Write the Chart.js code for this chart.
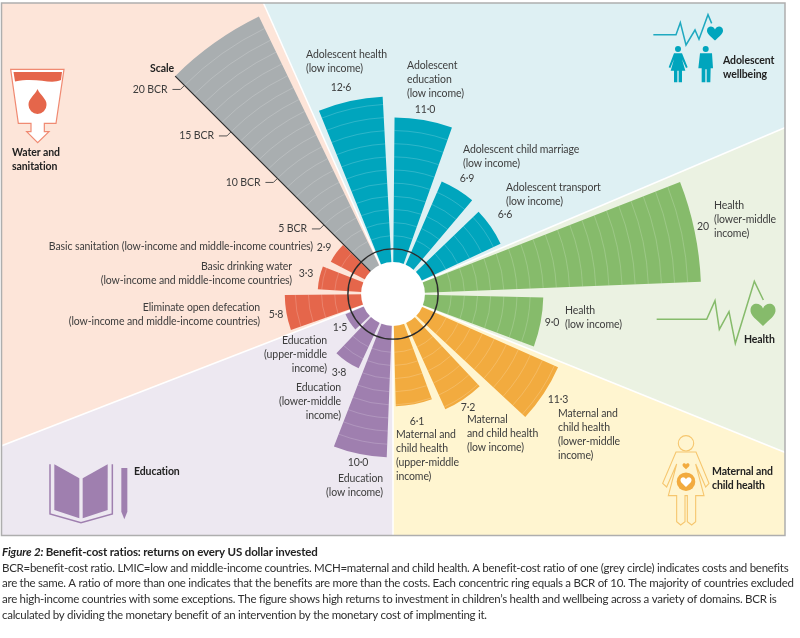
<!DOCTYPE html>
<html>
<head>
<meta charset="utf-8">
<title>Benefit-cost ratios</title>
<script src="https://cdn.jsdelivr.net/npm/chart.js@4"></script>
<style>
  html, body { margin: 0; padding: 0; background: #fff; overflow: hidden; }
  /* the radial scale centres itself in the chart area, so the canvas runs 30px above the page */
  canvas { display: block; margin-top: -30px; }
</style>
</head>
<body>
<canvas id="chart" width="800" height="668"></canvas>
<script>
const categories = [
  'Scale',
  'Adolescent health (low income)',
  'Adolescent education (low income)',
  'Adolescent child marriage (low income)',
  'Adolescent transport (low income)',
  'Health (lower-middle income)',
  'Health (low income)',
  'Maternal and child health (lower-middle income)',
  'Maternal and child health (low income)',
  'Maternal and child health (upper-middle income)',
  'Education (low income)',
  'Education (lower-middle income)',
  'Education (upper-middle income)',
  'Eliminate open defecation (low-income and middle-income countries)',
  'Basic drinking water (low-income and middle-income countries)',
  'Basic sanitation (low-income and middle-income countries)'
];
// bar lengths read against the scale; the grey bar and Health (lower-middle) both run to about 21,
// past the 20 BCR tick, though Health is printed as 20
const values = [21, 12.6, 11.0, 6.9, 6.6, 21, 9.0, 11.3, 7.2, 6.1, 10.0, 3.8, 1.5, 5.8, 3.3, 2.9];
const valueLabels = ['', '12\u00b76', '11\u00b70', '6\u00b79', '6\u00b76', '20', '9\u00b70', '11\u00b73', '7\u00b72', '6\u00b71', '10\u00b70', '3\u00b78', '1\u00b75', '5\u00b78', '3\u00b73', '2\u00b79'];
const scaleTicks = [5, 10, 15, 20];

// bearing of each bar, degrees clockwise from up
const barStart = [-45, -22, 0.5, 23.4, 46.1, 68.7, 91.3, 113.9, 136.8, 159.7, 182.2, 204.8, 226.7, 250.6, 273.7, 297.4];
const barEnd = [-25.8, -3, 19.5, 40.2, 64.9, 87.7, 110.4, 132.9, 155.6, 178.6, 201.2, 223.7, 246.9, 269.5, 291.5, 314.5];

const RED = '#e5664b', GREY = '#a9aeb0', TEAL = '#00a5bd', GREEN = '#86bb6b', ORANGE = '#f2ab3f', PURPLE = '#9f7faf';
const barColors = [GREY, TEAL, TEAL, TEAL, TEAL, GREEN, GREEN, ORANGE, ORANGE, ORANGE, PURPLE, PURPLE, PURPLE, RED, RED, RED];

// background panels: from, to (bearing), colour
const panelFrom = [-24, 67, 112, 180, 248.8];
const panelTo = [67, 112, 180, 248.8, 336];
const panelColors = ['#def0f3', '#ebf2e2', '#fff5d0', '#ede8f1', '#fde5d9'];

// text placed by hand: [lines, x, first line y, align]
const barText = [
  null,
  [['Adolescent health', '(low income)'], 306, 55, 'left'],
  [['Adolescent', 'education', '(low income)'], 407, 66, 'left'],
  [['Adolescent child marriage', '(low income)'], 463, 150, 'left'],
  [['Adolescent transport', '(low income)'], 506, 188, 'left'],
  [['Health', '(lower-middle', 'income)'], 714, 206, 'left'],
  [['Health', '(low income)'], 565, 311, 'left'],
  [['Maternal and', 'child health', '(lower-middle', 'income)'], 558, 414, 'left'],
  [['Maternal', 'and child health', '(low income)'], 467, 420, 'left'],
  [['Maternal and', 'child health', '(upper-middle', 'income)'], 396, 435, 'left'],
  [['Education', '(low income)'], 383, 479, 'right'],
  [['Education', '(lower-middle', 'income)'], 341, 388, 'right'],
  [['Education', '(upper-middle', 'income)'], 327, 341, 'right'],
  [['Eliminate open defecation', '(low-income and middle-income countries)'], 260, 308, 'right'],
  [['Basic drinking water', '(low-income and middle-income countries)'], 292, 267, 'right'],
  [['Basic sanitation (low-income and middle-income countries)'], 313, 247, 'right']
];
const valueText = [null, [341, 88], [425, 110], [467, 179], [505, 215], [703, 227], [552, 323], [558, 400],
  [468, 408], [417, 422], [358, 463], [339, 373], [340, 328], [276, 315], [306, 274], [324, 248]];

const domainText = [
  [['Water and', 'sanitation'], 12, 153],
  [['Adolescent', 'wellbeing'], 723, 61],
  [['Health'], 744, 340],
  [['Maternal and', 'child health'], 712, 472],
  [['Education'], 134, 472]
];

const captionTitle = 'Benefit-cost ratios: returns on every US dollar invested';
const captionLines = [
  'BCR=benefit-cost ratio. LMIC=low and middle-income countries. MCH=maternal and child health. A benefit-cost ratio of one (grey circle) indicates costs and benefits',
  'are the same. A ratio of more than one indicates that the benefits are more than the costs. Each concentric ring equals a BCR of 10. The majority of countries excluded',
  'are high-income countries with some exceptions. The figure shows high returns to investment in children\u2019s health and wellbeing across a variety of domains. BCR is',
  'calculated by dividing the monetary benefit of an intervention by the monetary cost of implmenting it.'
];

const FONT = 'Lato, sans-serif';
const INK = '#3d3d3d';
const SHIFT = 30;

// gaps between bars are empty slices, the polar controller has no other way to leave a gap
let labels = [], data = [], angles = [], colors = [], isBar = [];
barStart.forEach((start, i) => {
  if (i > 0) {
    labels.push('');
    data.push(0);
    angles.push(start - barEnd[i - 1]);
    colors.push('rgba(0,0,0,0)');
    isBar.push(false);
  }
  labels.push(categories[i]);
  data.push(values[i]);
  angles.push(barEnd[i] - start);
  colors.push(barColors[i]);
  isBar.push(true);
});

function rad(bearing) {
  return (bearing - 90) * Math.PI / 180;
}

function poly(ctx, pts, ox, oy) {
  ctx.beginPath();
  pts.forEach((p, i) => {
    if (i === 0) ctx.moveTo(ox + p[0] / 3, oy + p[1] / 3);
    else ctx.lineTo(ox + p[0] / 3, oy + p[1] / 3);
  });
}

function heart(ctx, cx, cy, w, color) {
  const s = w / 2;
  ctx.fillStyle = color;
  ctx.beginPath();
  ctx.moveTo(cx, cy + s * 0.95);
  ctx.bezierCurveTo(cx - s * 0.5, cy + s * 0.45, cx - s * 1.05, cy + s * 0.1, cx - s, cy - s * 0.35);
  ctx.bezierCurveTo(cx - s * 0.95, cy - s * 0.95, cx - s * 0.2, cy - s * 0.95, cx, cy - s * 0.45);
  ctx.bezierCurveTo(cx + s * 0.2, cy - s * 0.95, cx + s * 0.95, cy - s * 0.95, cx + s, cy - s * 0.35);
  ctx.bezierCurveTo(cx + s * 1.05, cy + s * 0.1, cx + s * 0.5, cy + s * 0.45, cx, cy + s * 0.95);
  ctx.fill();
}

function drawIcons(ctx) {
  ctx.lineJoin = 'miter';
  // water and sanitation
  poly(ctx, [[32, 208], [192, 208], [168, 370], [133, 370], [133, 395], [147, 395], [113, 428], [80, 395], [93, 395], [93, 370], [55, 370]], 0, 0);
  ctx.closePath();
  ctx.fillStyle = '#fff';
  ctx.fill();
  ctx.strokeStyle = '#f08a72';
  ctx.lineWidth = 1.2;
  ctx.stroke();
  ctx.fillStyle = RED;
  ctx.beginPath();
  ctx.moveTo(13.5, 72);
  ctx.lineTo(62, 72);
  ctx.lineTo(61, 80);
  ctx.bezierCurveTo(50, 85, 38, 77, 15, 81.5);
  ctx.fill();
  ctx.beginPath();
  ctx.moveTo(37.5, 89);
  ctx.bezierCurveTo(35, 95, 28, 99, 28.5, 105);
  ctx.arc(37.5, 105, 9, Math.PI, 0, true);
  ctx.bezierCurveTo(47, 99, 40, 95, 37.5, 89);
  ctx.fill();

  // adolescent wellbeing
  ctx.strokeStyle = '#1fa9c0';
  ctx.lineWidth = 1.5;
  poly(ctx, [[370, 104], [438, 104], [451, 68], [468, 135], [495, 90], [507, 118], [534, 44], [545, 70]], 530, 0);
  ctx.stroke();
  heart(ctx, 715, 33, 16, TEAL);
  ctx.fillStyle = TEAL;
  ctx.beginPath();
  ctx.arc(678, 49, 3, 0, Math.PI * 2);
  ctx.arc(705.7, 49, 3, 0, Math.PI * 2);
  ctx.fill();
  poly(ctx, [[432, 160], [456, 160], [473, 202], [468, 204], [456, 178], [466, 212], [456, 212], [456, 247], [446, 247], [446, 212], [442, 212], [442, 247], [432, 247], [432, 212], [422, 212], [432, 178], [421, 204], [416, 202]], 530, 0);
  ctx.fill();
  poly(ctx, [[510, 160], [546, 160], [549, 205], [542, 205], [541, 247], [530, 247], [530, 208], [526, 208], [526, 247], [515, 247], [515, 205], [505, 205]], 530, 0);
  ctx.fill();

  // health
  ctx.strokeStyle = GREEN;
  ctx.lineWidth = 1.5;
  poly(ctx, [[380, 238], [530, 238], [555, 182], [568, 268], [597, 215], [616, 310], [673, 124], [700, 180]], 530, 240);
  ctx.stroke();
  heart(ctx, 763, 314, 25, GREEN);

  // maternal and child health
  ctx.strokeStyle = '#f6c66e';
  ctx.lineWidth = 1.1;
  ctx.beginPath();
  ctx.arc(686, 443.3, 7.7, 0, Math.PI * 2);
  ctx.stroke();
  poly(ctx, [[438, 636], [498, 636], [537, 730], [527, 741], [497, 672], [522, 767], [497, 767], [497, 845], [485, 855], [472, 845], [472, 767], [465, 767], [465, 845], [452, 855], [440, 845], [440, 767], [415, 767], [440, 672], [410, 741], [398, 730]], 530, 240);
  ctx.closePath();
  ctx.stroke();
  heart(ctx, 686, 466, 7, ORANGE);
  ctx.fillStyle = ORANGE;
  ctx.beginPath();
  ctx.arc(686, 481.7, 9.3, 0, Math.PI * 2);
  ctx.fill();
  heart(ctx, 686, 481.7, 11, '#fff');

  // education
  ctx.fillStyle = PURPLE;
  poly(ctx, [[163, 373], [238, 415], [238, 535], [163, 510]], 0, 340);
  ctx.fill();
  poly(ctx, [[248, 415], [323, 373], [323, 510], [248, 535]], 0, 340);
  ctx.fill();
  poly(ctx, [[364, 384], [382, 384], [382, 515], [373, 538], [364, 515]], 0, 340);
  ctx.fill();
  ctx.strokeStyle = PURPLE;
  ctx.lineWidth = 1.5;
  poly(ctx, [[150, 373], [150, 522], [243, 548], [337, 522], [337, 373]], 0, 340);
  ctx.stroke();
}

function drawLines(ctx, lines, x, y, align) {
  ctx.textAlign = align;
  ctx.textBaseline = 'middle';
  lines.forEach((line, i) => ctx.fillText(line, x, y + i * 14));
}

const radialBars = {
  id: 'radialBars',
  beforeDraw(chart) {
    const ctx = chart.ctx, scale = chart.scales.r;
    const cx = scale.xCenter, cy = scale.yCenter - SHIFT;
    ctx.save();
    ctx.translate(0, SHIFT);
    // framed background panels
    ctx.save();
    ctx.beginPath();
    ctx.rect(2, 3, 783, 533);
    ctx.clip();
    panelColors.forEach((color, i) => {
      ctx.fillStyle = color;
      ctx.beginPath();
      ctx.moveTo(cx, cy);
      ctx.arc(cx, cy, 1000, rad(panelFrom[i]), rad(panelTo[i]));
      ctx.closePath();
      ctx.fill();
    });
    ctx.strokeStyle = '#fff';
    ctx.lineWidth = 1.5;
    panelFrom.forEach(bearing => {
      ctx.beginPath();
      ctx.moveTo(cx, cy);
      ctx.lineTo(cx + 1000 * Math.cos(rad(bearing)), cy + 1000 * Math.sin(rad(bearing)));
      ctx.stroke();
    });
    ctx.restore();
    ctx.strokeStyle = '#aeaeae';
    ctx.lineWidth = 1.5;
    ctx.strokeRect(1.5, 3, 783.5, 532.5);
    ctx.restore();
  },
  afterDatasetsDraw(chart) {
    const ctx = chart.ctx, scale = chart.scales.r;
    const cx = scale.xCenter, cy = scale.yCenter;
    const arcs = chart.getDatasetMeta(0).data;
    ctx.save();

    // concentric rings show only on the bars
    ctx.strokeStyle = 'rgba(255,255,255,0.18)';
    ctx.lineWidth = 1;
    arcs.forEach((arc, i) => {
      if (!isBar[i]) return;
      for (let v = 1; v < data[i]; v++) {
        ctx.beginPath();
        ctx.arc(cx, cy, scale.getDistanceFromCenterForValue(v), arc.startAngle, arc.endAngle);
        ctx.stroke();
      }
    });

    ctx.fillStyle = '#fff';
    ctx.beginPath();
    ctx.arc(cx, cy, scale.getDistanceFromCenterForValue(0), 0, Math.PI * 2);
    ctx.fill();

    // BCR of one
    ctx.strokeStyle = '#2b2b2b';
    ctx.lineWidth = 1.4;
    ctx.beginPath();
    ctx.arc(cx, cy, scale.getDistanceFromCenterForValue(1), 0, Math.PI * 2);
    ctx.stroke();

    // edge of the grey scale bar and its ticks
    const a = arcs[0].startAngle;
    const r0 = scale.getDistanceFromCenterForValue(0), rEnd = scale.getDistanceFromCenterForValue(values[0]);
    ctx.lineWidth = 1.1;
    ctx.beginPath();
    ctx.moveTo(cx + r0 * Math.cos(a), cy + r0 * Math.sin(a));
    ctx.lineTo(cx + rEnd * Math.cos(a), cy + rEnd * Math.sin(a));
    ctx.stroke();
    ctx.font = '10.5px ' + FONT;
    ctx.letterSpacing = '-0.1px';
    ctx.fillStyle = INK;
    scaleTicks.forEach(t => {
      const r = scale.getDistanceFromCenterForValue(t);
      const x = cx + r * Math.cos(a), y = cy + r * Math.sin(a);
      ctx.strokeStyle = '#444';
      ctx.lineWidth = 0.9;
      ctx.beginPath();
      ctx.moveTo(x, y);
      ctx.lineTo(x - 4, y + 4);
      ctx.lineTo(x - 12, y + 4);
      ctx.stroke();
      ctx.textAlign = 'right';
      ctx.textBaseline = 'middle';
      ctx.fillText(t + ' BCR', x - 17, y + 4);
    });
    ctx.restore();
  },
  afterDraw(chart) {
    const ctx = chart.ctx;
    ctx.save();
    ctx.translate(0, SHIFT);
    drawIcons(ctx);

    ctx.fillStyle = INK;
    ctx.font = '10.5px ' + FONT;
    ctx.letterSpacing = '-0.1px';
    barText.forEach(t => {
      if (t) drawLines(ctx, t[0], t[1], t[2], t[3]);
    });
    valueText.forEach((p, i) => {
      if (!p) return;
      ctx.textAlign = 'center';
      ctx.textBaseline = 'middle';
      ctx.fillText(valueLabels[i], p[0], p[1]);
    });

    ctx.fillStyle = '#222';
    ctx.font = 'bold 10.5px ' + FONT;
    domainText.forEach(t => drawLines(ctx, t[0], t[1], t[2], 'left'));
    drawLines(ctx, ['Scale'], 162, 68.5, 'center');

    // caption
    ctx.textAlign = 'left';
    ctx.textBaseline = 'alphabetic';
    ctx.letterSpacing = '-0.14px';
    ctx.font = 'italic bold 11.5px ' + FONT;
    ctx.fillText('Figure 2:', 2, 556);
    const w = ctx.measureText('Figure 2: ').width;
    ctx.font = 'bold 11.5px ' + FONT;
    ctx.fillText(captionTitle, 2 + w, 556);
    ctx.font = '11.5px ' + FONT;
    ctx.letterSpacing = '-0.27px';
    ctx.fillStyle = '#2f2f2f';
    captionLines.forEach((line, i) => ctx.fillText(line, 2, 571.7 + i * 15.6));
    ctx.restore();
  }
};

new Chart(document.getElementById('chart'), {
  type: 'polarArea',
  data: {
    labels: labels,
    datasets: [{
      data: data,
      angle: angles,
      backgroundColor: colors,
      borderWidth: 0,
      clip: false
    }]
  },
  options: {
    responsive: false,
    animation: false,
    layout: { padding: { top: 0, bottom: 20, left: 0, right: 14 } },
    plugins: { legend: { display: false }, tooltip: { enabled: false } },
    scales: {
      r: {
        startAngle: barStart[0],
        min: -2.43,
        max: 22.21,
        ticks: { display: false, stepSize: 1 },
        grid: { display: false },
        angleLines: { display: false },
        pointLabels: { display: false }
      }
    }
  },
  plugins: [radialBars]
});
</script>
</body>
</html>
